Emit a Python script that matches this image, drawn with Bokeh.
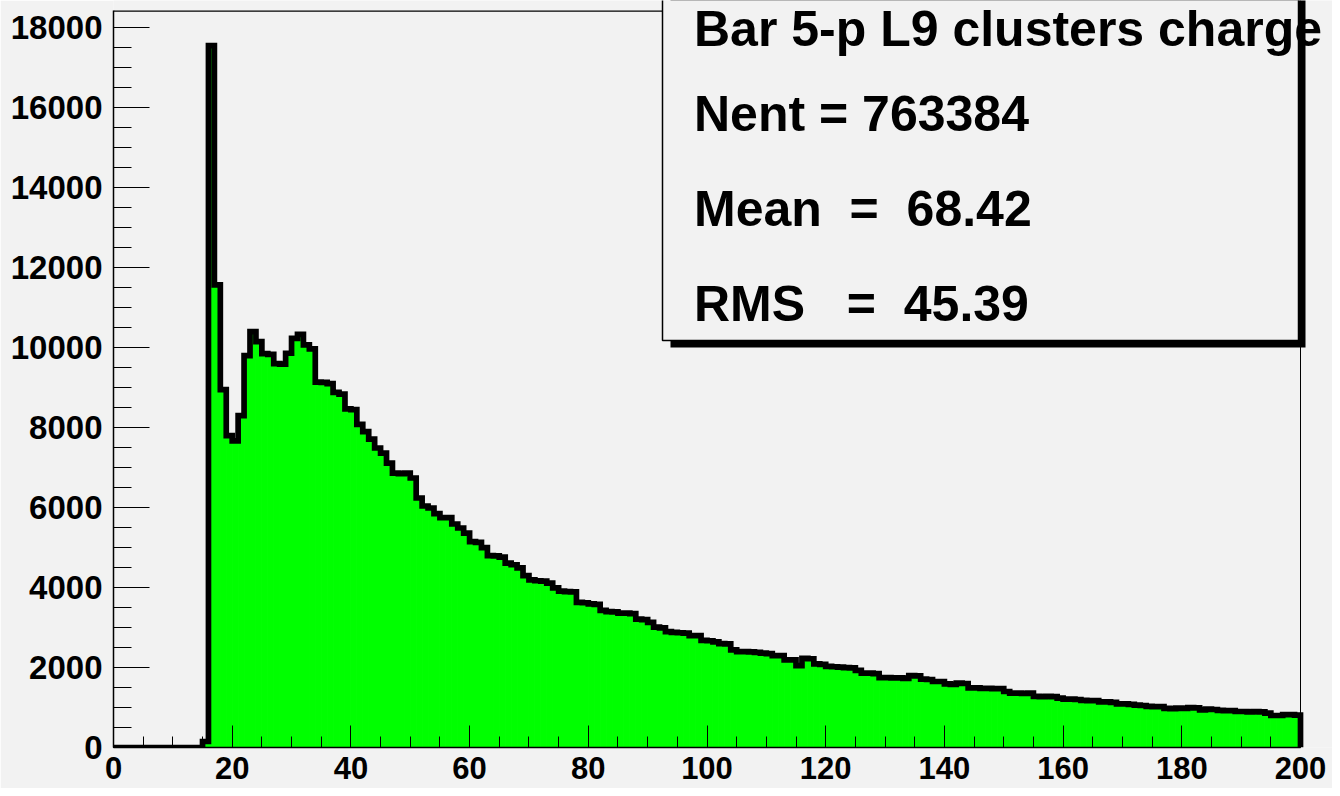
import numpy as np
from bokeh.plotting import figure
from bokeh.models import FixedTicker, Label, BoxAnnotation, Range1d, Span
from bokeh.embed import file_html
from bokeh.resources import INLINE

# ---------------- data ----------------
x_min, x_max = 0, 200
bin_width = 1
counts = [
    0, 0, 0, 0, 0, 0, 0, 0, 0, 0, 0, 0, 0, 0, 0, 150,
    17554, 11570, 8950, 7800, 7670, 8300, 9800, 10400, 10150, 9850,
    9830, 9600, 9590, 9860, 10230, 10330, 10070, 9970, 9140, 9130,
    9100, 8880, 8840, 8470, 8450, 8080, 7900, 7710, 7490, 7360,
    7110, 6860, 6850, 6860, 6740, 6240, 6040, 5990, 5850, 5750,
    5750, 5590, 5490, 5360, 5150, 5130, 5000, 4800, 4790, 4760,
    4610, 4570, 4490, 4300, 4190, 4170, 4160, 4110, 3990, 3910,
    3900, 3890, 3630, 3620, 3590, 3580, 3430, 3400, 3390, 3360,
    3360, 3350, 3210, 3200, 3130, 3010, 2990, 2900, 2880, 2870,
    2860, 2800, 2800, 2680, 2670, 2640, 2600, 2590, 2440, 2400,
    2400, 2390, 2380, 2360, 2350, 2300, 2300, 2190, 2190, 2050,
    2230, 2220, 2090, 2080, 2030, 2020, 2010, 2000, 1990, 1930,
    1860, 1860, 1850, 1750, 1750, 1740, 1740, 1730, 1800, 1790,
    1710, 1700, 1650, 1650, 1590, 1580, 1610, 1600, 1490, 1490,
    1480, 1480, 1470, 1470, 1400, 1360, 1360, 1350, 1360, 1280,
    1270, 1280, 1270, 1235, 1210, 1210, 1200, 1180, 1170, 1170,
    1140, 1140, 1130, 1090, 1090, 1080, 1060, 1050, 1030, 1020,
    1020, 980, 970, 985, 980, 1000, 990, 940, 960, 950,
    930, 920, 920, 900, 900, 890, 900, 890, 860, 800,
    800, 820, 820, 810,
]
x_ticks = [0, 20, 40, 60, 80, 100, 120, 140, 160, 180, 200]
x_minor = list(range(0, 201, 5))
y_ticks = [0, 2000, 4000, 6000, 8000, 10000, 12000, 14000, 16000, 18000]
y_minor = list(range(0, 18001, 500))
stats_title = "Bar 5-p L9 clusters charge"
NB = "\u00a0"
stats_lines = ["Nent = 763384",
               "Mean" + NB + " =" + NB + " 68.42",
               "RMS" + NB + NB + " =" + NB + " 45.39"]

counts = np.array(counts, dtype=float)
edges = np.arange(x_min, x_max + bin_width, bin_width, dtype=float)
y_top = 1.05 * counts.max()

BG = "#f2f2f2"
FONT = "Liberation Sans"

# layout (pixels): histogram frame spans x 113..1300, y 10..747 of the picture
LEFT, TOP, HIST_H = 113, 10, 737
FW, FH = 1219, TOP + HIST_H            # drawing area reaches the top and right edges
PX_X = 1187 / (x_max - x_min)          # pixels per x unit
PX_Y = HIST_H / y_top                  # pixels per count
def dx(px):   # picture x -> data x
    return (px - LEFT) / PX_X
def dy(py):   # picture y -> data y
    return (FH - py) / PX_Y

p = figure(
    frame_width=FW, frame_height=FH,
    min_border_left=LEFT, min_border_right=0, min_border_top=0, min_border_bottom=41,
    x_range=Range1d(x_min, x_min + FW / PX_X), y_range=Range1d(0, FH / PX_Y),
    output_backend="svg", toolbar_location=None,
    background_fill_color=BG, border_fill_color=BG,
)
p.grid.visible = False
p.outline_line_color = None

# filled bins
p.quad(left=edges[:-1], right=edges[1:], bottom=0, top=counts,
       fill_color="#00ff00", line_color="#00ff00", line_width=1)

# histogram outline (step path from the same arrays)
x_path = np.repeat(edges, 2)
y_path = np.concatenate([[0.0], np.repeat(counts, 2), [0.0]])
p.line(x_path, y_path, line_color="black", line_width=5.7, line_join="miter")

# axes
for ax in (p.xaxis[0], p.yaxis[0]):
    ax.axis_line_color = "black"
    ax.axis_line_width = 1.5
    ax.major_tick_line_color = "black"
    ax.minor_tick_line_color = "black"
    ax.major_tick_out = 0
    ax.minor_tick_out = 0
    ax.major_label_text_font = FONT
    ax.major_label_text_font_style = "bold"
    ax.major_label_text_font_size = "33px"
    ax.major_label_text_color = "black"

p.xaxis.ticker = FixedTicker(ticks=x_ticks, minor_ticks=x_minor)
p.xaxis.bounds = (x_min, x_max)
p.xaxis.major_tick_in = 22
p.xaxis.minor_tick_in = 11
p.xaxis.major_label_standoff = 9
p.xaxis.major_label_text_font_size = "31px"

p.yaxis.ticker = FixedTicker(ticks=y_ticks, minor_ticks=y_minor)
p.yaxis.bounds = (0, y_top)
p.yaxis.major_tick_in = 36
p.yaxis.minor_tick_in = 18
p.yaxis.major_label_standoff = 11

# frame: right side and top side
p.add_layout(Span(location=x_max, dimension="height", line_color="black", line_width=1))
p.add_layout(BoxAnnotation(left=x_min, right=dx(662), top=y_top, bottom=dy(TOP + 1.3),
                           fill_color="black", fill_alpha=1, line_color=None))

# stats box (shadow + box)
p.add_layout(BoxAnnotation(left=dx(670), right=dx(1305), bottom=dy(347), top=y_top * 1.3,
                           fill_color="black", fill_alpha=1, line_color=None))
p.add_layout(BoxAnnotation(left=dx(662), right=dx(1298), bottom=dy(340), top=y_top * 1.3,
                           fill_color=BG, fill_alpha=1, line_color="black",
                           line_width=1.5, line_alpha=1))

label_x = dx(693.5)
label_pys = [28, 113, 208, 303]
for txt, py in zip([stats_title] + stats_lines, label_pys):
    p.add_layout(Label(x=label_x, y=dy(py), text=txt, text_font=FONT,
                       text_font_style="bold", text_font_size="50px",
                       text_color="black", text_baseline="alphabetic",
                       text_align="left"))

html = file_html(p, INLINE, title="Bar 5-p L9 clusters charge")
html = html.replace("<body>", '<body style="background-color:#f2f2f2;">', 1)
open("out.html", "w").write(html)
